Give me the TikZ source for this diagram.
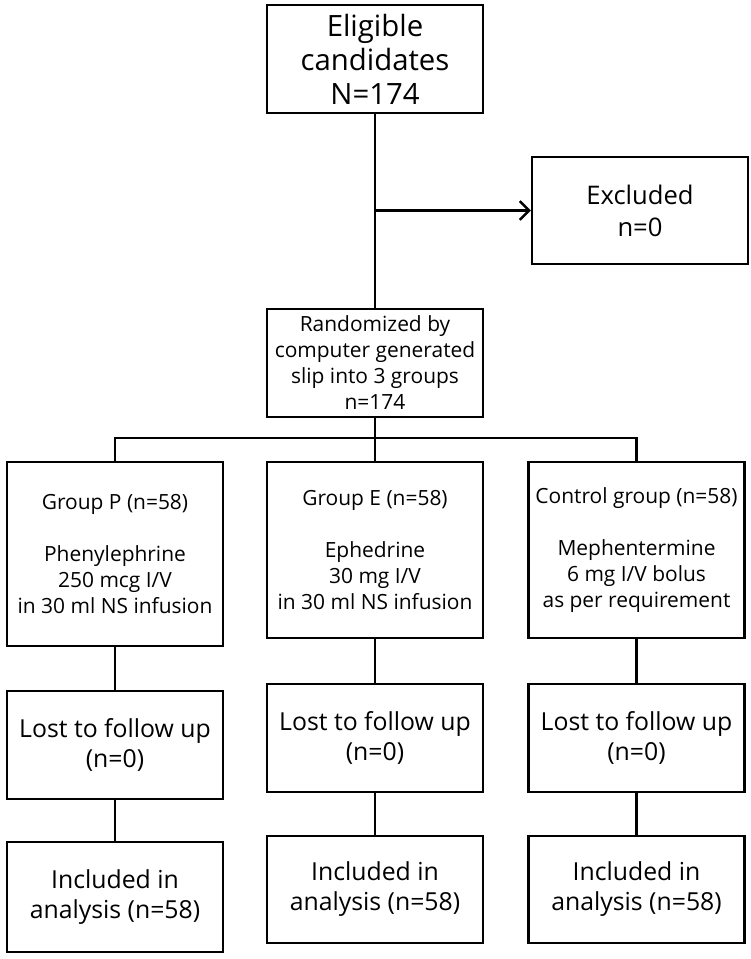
\documentclass[tikz,border=0pt]{standalone}
\usepackage{fontspec}
\setmainfont{Open Sans}
\usetikzlibrary{arrows.meta}

\begin{document}
\begin{tikzpicture}[x=0.75pt, y=-0.75pt, line width=1.8pt,
    box/.style={draw, align=center, inner sep=0pt, minimum width=216pt*0.75},
    big/.style={font=\fontsize{22pt}{25.5pt}\selectfont},
    mid/.style={font=\fontsize{18.6pt}{22.5pt}\selectfont},
    small/.style={font=\fontsize{15.7pt}{19.5pt}\selectfont}]
    \useasboundingbox (0, 0) rectangle (750, 959);
    \node[box, big, minimum height=108*0.75pt](elig) at (375, 59){Eligible\\candidates\\N=174};
    \node[box, mid, font=\fontsize{19.2pt}{24pt}\selectfont, minimum height=107*0.75pt](excl) at (640, 210.5){Excluded\\n=0};
    \node[box, small, minimum height=108*0.75pt](rand) at (375, 363){Randomized by\\computer generated\\slip into 3 groups\\n=174};
    \node[box, small, minimum height=184*0.75pt](grpP) at (115, 554){Group P (n=58)\\[19.5pt]Phenylephrine\\250 mcg I/V\\in 30 ml NS infusion};
    \node[box, small, minimum height=176*0.75pt](grpE) at (375, 550){Group E (n=58)\\[19.5pt]Ephedrine\\30 mg I/V\\in 30 ml NS infusion};
    \node[box, small, minimum height=176*0.75pt](grpC) at (636.5, 550){Control group (n=58)\\[19.5pt]Mephentermine\\6 mg I/V bolus\\as per requirement};
    \node[box, mid, minimum height=108*0.75pt](lostP) at (115, 745){Lost to follow up\\(n=0)};
    \node[box, mid, minimum height=108*0.75pt](lostE) at (375, 738){Lost to follow up\\(n=0)};
    \node[box, mid, minimum height=108*0.75pt](lostC) at (636.5, 738){Lost to follow up\\(n=0)};
    \node[box, mid, minimum height=110*0.75pt](inclP) at (115, 897){Included in\\analysis (n=58)};
    \node[box, mid, minimum height=107*0.75pt](inclE) at (375, 889.5){Included in\\analysis (n=58)};
    \node[box, mid, minimum height=107*0.75pt](inclC) at (636.5, 889.5){Included in\\analysis (n=58)};
    \coordinate (split) at (elig.south |- excl.west);
    \draw (elig.south) -- (rand.north);
    \draw[-{Straight Barb[length=7pt, width=14pt]}] (split) -- (excl.west);
    \draw (rand.south) -- (grpE.north);
    \draw (grpP.north) -- ++(0, -23) -| (grpC.north);
    \foreach \g in {P, E, C}{
        \draw (grp\g.south) -- (lost\g.north);
        \draw (lost\g.south) -- (incl\g.north);
    }
\end{tikzpicture}
\end{document}
